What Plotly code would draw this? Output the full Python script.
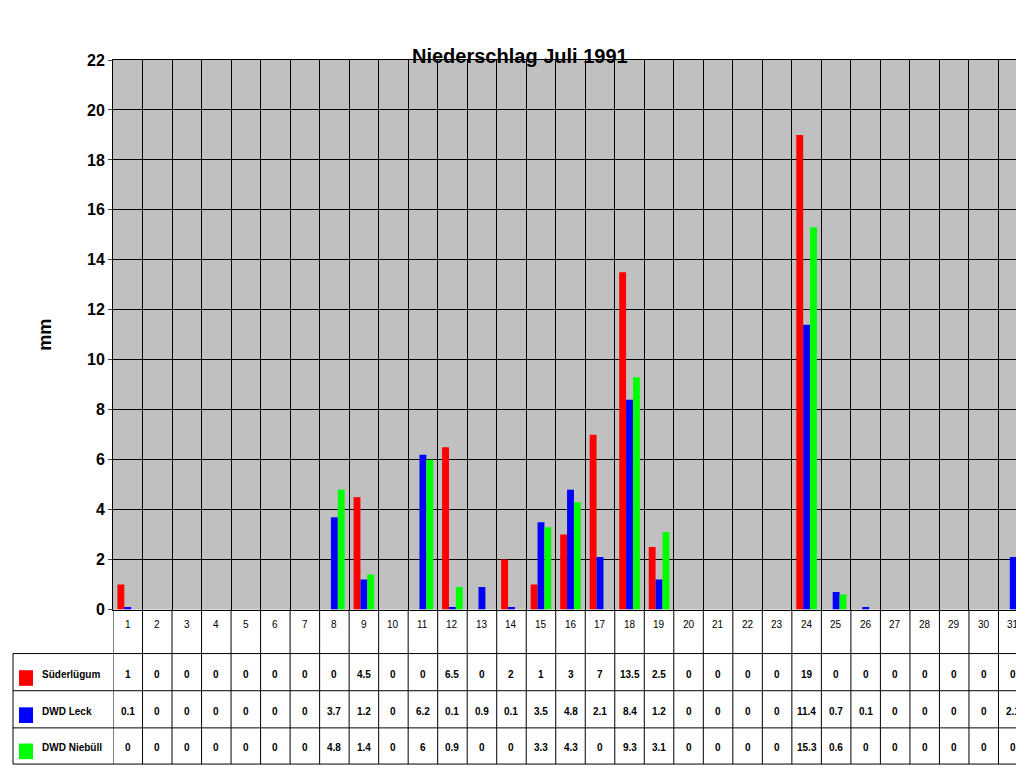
import plotly.graph_objects as go

days = list(range(1, 32))
suederluegum = [1, 0, 0, 0, 0, 0, 0, 0, 4.5, 0, 0, 6.5, 0, 2, 1, 3, 7, 13.5, 2.5, 0, 0, 0, 0, 19, 0, 0, 0, 0, 0, 0, 0]
dwd_leck = [0.1, 0, 0, 0, 0, 0, 0, 3.7, 1.2, 0, 6.2, 0.1, 0.9, 0.1, 3.5, 4.8, 2.1, 8.4, 1.2, 0, 0, 0, 0, 11.4, 0.7, 0.1, 0, 0, 0, 0, 2.1]
dwd_niebuell = [0, 0, 0, 0, 0, 0, 0, 4.8, 1.4, 0, 6, 0.9, 0, 0, 3.3, 4.3, 0, 9.3, 3.1, 0, 0, 0, 0, 15.3, 0.6, 0, 0, 0, 0, 0, 0]
series = [("Süderlügum", suederluegum, "#FF0000"),
          ("DWD Leck", dwd_leck, "#0000FF"),
          ("DWD Niebüll", dwd_niebuell, "#00FF00")]

W, H = 1024, 768
def py(p):
    return 1 - p / H

fig = go.Figure()
for name, vals, col in series:
    fig.add_trace(go.Bar(x=days, y=vals, name=name, marker_color=col, marker_line_width=0))

shapes = []
ann = []
line = dict(color="black", width=1)
# table horizontal lines
for yy in [652, 690, 728, 765]:
    shapes.append(dict(type="line", xref="paper", yref="paper", x0=5 / W, x1=1020 / W, y0=py(yy), y1=py(yy), line=line))
shapes.append(dict(type="line", xref="paper", yref="paper", x0=5 / W, x1=5 / W, y0=py(652), y1=py(765), line=line))
for b in [d + 0.5 for d in range(0, 32)]:
    shapes.append(dict(type="line", xref="x", yref="paper", x0=b, x1=b, y0=py(607), y1=py(765), line=line))
for d in days:
    ann.append(dict(x=d, y=py(630), xref="x", yref="paper", text=str(d), showarrow=False,
                    font=dict(size=10, family="Arial", color="black")))
row_y = [681, 719, 756]
for (name, vals, col), ry in zip(series, row_y):
    shapes.append(dict(type="rect", xref="paper", yref="paper", x0=11 / W, x1=25 / W,
                       y0=py(ry + 4), y1=py(ry - 12), fillcolor=col, line=dict(width=0)))
    ann.append(dict(x=32 / W, y=py(ry), xref="paper", yref="paper", text="<b>%s</b>" % name,
                    showarrow=False, xanchor="left", font=dict(size=10, family="Arial", color="black")))
    for d, v in zip(days, vals):
        ann.append(dict(x=d, y=py(ry), xref="x", yref="paper", text="<b>%g</b>" % v, showarrow=False,
                        font=dict(size=10, family="Arial", color="black")))

ann.append(dict(x=512 / W, y=py(28), xref="paper", yref="paper", text="<b>Niederschlag Juli 1991</b>",
                showarrow=False, font=dict(size=20, family="Arial", color="black")))
ann.append(dict(x=25 / W, y=py(326), xref="paper", yref="paper", text="<b>mm</b>", textangle=-90,
                showarrow=False, font=dict(size=18, family="Arial", color="black")))

fig.update_layout(
    width=W, height=H, margin=dict(l=0, r=0, t=0, b=0),
    paper_bgcolor="white", plot_bgcolor="#C0C0C0",
    barmode="group", bargap=0.3, bargroupgap=0, showlegend=False,
    shapes=shapes, annotations=ann,
    xaxis=dict(domain=[105 / W, 1020 / W], range=[0.5, 31.5], tickvals=[d + 0.5 for d in range(0, 32)],
               showticklabels=False, showgrid=True, gridcolor="black", gridwidth=1, zeroline=False,
               showline=True, linecolor="black", mirror=True, ticks=""),
    yaxis=dict(domain=[py(607), py(45)], range=[0, 22], dtick=2, showgrid=True, gridcolor="black",
               zeroline=False, showline=True, linecolor="black", mirror=True, ticks="outside", ticklen=4,
               tickfont=dict(size=16, family="Arial", color="black"), tickprefix="<b>", ticksuffix="</b>"),
)
fig.write_html("out.html")
